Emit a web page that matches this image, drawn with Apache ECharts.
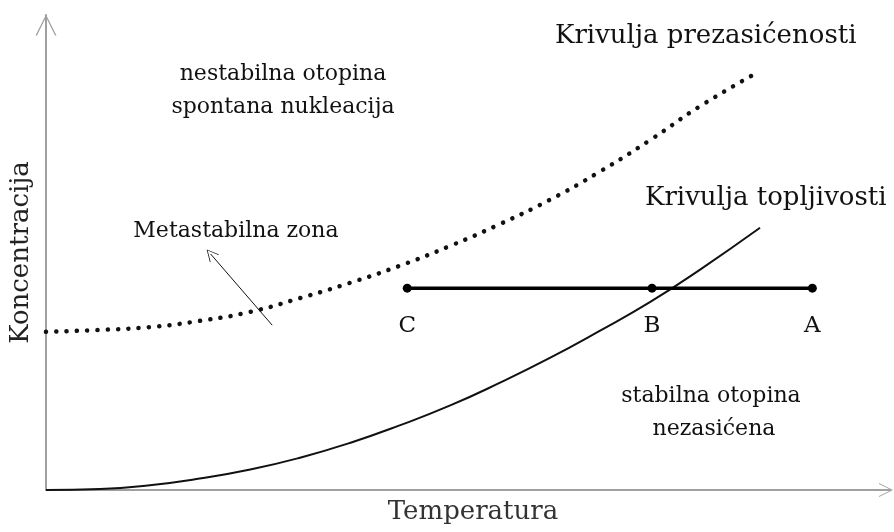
<!DOCTYPE html>
<html lang="hr">
<head>
    <meta charset="UTF-8">
    <title>Krivulja topljivosti</title>
    <script src="https://cdn.jsdelivr.net/npm/echarts@6/dist/echarts.min.js"></script>
    <style>
        html, body { margin: 0; padding: 0; background: #fff; }
    </style>
</head>
<body>
<div id="main" style="width: 894px;height:532px;"></div>

<script type="text/javascript">
    // podaci ocitani sa slike (temperatura i koncentracija u relativnim jedinicama 0-100)
    var solubilityX = [0, 6.4, 12.3, 18.2, 24.2, 30.1, 36.0, 41.9, 47.9, 53.8, 59.7, 65.6, 71.6, 77.5, 84.6];
    var solubilityY = [0, 0.2, 1.0, 2.4, 4.3, 6.8, 9.9, 13.6, 17.8, 22.6, 27.8, 33.5, 39.6, 46.4, 55.2];

    var supersatX = [0, 6.4, 12.3, 18.2, 24.2, 30.1, 36.0, 41.9, 47.9, 53.8, 59.7, 65.6, 71.6, 77.5, 84.4];
    var supersatY = [33.3, 33.7, 34.3, 35.6, 37.5, 40.4, 43.6, 47.2, 51.4, 56.0, 61.1, 67.0, 73.7, 80.8, 88.0];

    // hladjenje otopine od A preko B do C
    var pointNames = ['C', 'B', 'A'];
    var pointX = [42.8, 71.8, 90.8];
    var pointY = 42.5;

    // strelica za metastabilnu zonu
    var arrowFrom = [26.8, 34.7];
    var arrowTo = [19.5, 49.7];

    var serif = 'DejaVu Serif';
    var chevron = 'path://M0,20 L10,0 L20,20 L18.6,20 L10,2.6 L1.4,20 Z';

    function pairs(xs, ys) {
        return xs.map(function (x, i) { return [x, ys[i]]; });
    }

    var myChart = echarts.init(document.getElementById('main'));
    var option = {
        animation: false,
        grid: { left: 46, right: 4, top: 15, bottom: 42 },
        xAxis: {
            type: 'value',
            min: 0,
            max: 100,
            name: 'Temperatura',
            nameLocation: 'middle',
            nameGap: 9,
            nameTextStyle: { fontFamily: serif, fontSize: 26, color: '#333', padding: [0, 0, 0, 10] },
            axisLine: {
                onZero: false,
                lineStyle: { color: '#a0a0a0', width: 2 },
                symbol: ['none', chevron],
                symbolSize: [24, 14],
                symbolOffset: [0, -4]
            },
            axisTick: { show: false },
            axisLabel: { show: false },
            splitLine: { show: false }
        },
        yAxis: {
            type: 'value',
            min: 0,
            max: 100,
            name: 'Koncentracija',
            nameLocation: 'middle',
            nameGap: 12,
            nameTextStyle: { fontFamily: serif, fontSize: 26, color: '#222' },
            axisLine: {
                onZero: false,
                lineStyle: { color: '#a0a0a0', width: 2 },
                symbol: ['none', chevron],
                symbolSize: [24, 21],
                symbolOffset: [0, -10]
            },
            axisTick: { show: false },
            axisLabel: { show: false },
            splitLine: { show: false }
        },
        series: [
            {
                name: 'Krivulja topljivosti',
                type: 'line',
                smooth: 0.5,
                showSymbol: false,
                lineStyle: { color: '#111', width: 2 },
                data: pairs(solubilityX, solubilityY)
            },
            {
                name: 'Krivulja prezasićenosti',
                type: 'line',
                smooth: 0.5,
                showSymbol: false,
                lineStyle: { color: '#111', width: 4.5, type: [0.1, 10.2], cap: 'round' },
                data: pairs(supersatX, supersatY),
                markLine: {
                    silent: true,
                    symbol: ['none', chevron],
                    symbolSize: [12, 12],
                    label: { show: false },
                    lineStyle: { color: '#111', width: 1, type: 'solid' },
                    data: [[{ coord: arrowFrom }, { coord: arrowTo }]]
                }
            },
            {
                name: 'CBA',
                type: 'line',
                symbol: 'circle',
                symbolSize: 9,
                itemStyle: { color: '#000' },
                lineStyle: { color: '#000', width: 3.5 },
                label: {
                    show: true,
                    position: 'bottom',
                    distance: 22,
                    fontFamily: serif,
                    fontSize: 23,
                    color: '#111',
                    formatter: function (p) { return p.name; }
                },
                data: pointX.map(function (x, i) {
                    return { name: pointNames[i], value: [x, pointY] };
                })
            }
        ],
        graphic: [
            { type: 'text', left: 555, top: 23, style: { text: 'Krivulja prezasićenosti', font: '26px "DejaVu Serif"', fill: '#111' } },
            { type: 'text', left: 645, top: 185, style: { text: 'Krivulja topljivosti', font: '26px "DejaVu Serif"', fill: '#111' } },
            { type: 'text', x: 283, y: 74, style: { text: 'nestabilna otopina', font: '22px "DejaVu Serif"', fill: '#111', align: 'center', verticalAlign: 'middle' } },
            { type: 'text', x: 283, y: 107, style: { text: 'spontana nukleacija', font: '22px "DejaVu Serif"', fill: '#111', align: 'center', verticalAlign: 'middle' } },
            { type: 'text', x: 236, y: 231, style: { text: 'Metastabilna zona', font: '22px "DejaVu Serif"', fill: '#111', align: 'center', verticalAlign: 'middle' } },
            { type: 'text', x: 711, y: 396, style: { text: 'stabilna otopina', font: '22px "DejaVu Serif"', fill: '#111', align: 'center', verticalAlign: 'middle' } },
            { type: 'text', x: 714, y: 429, style: { text: 'nezasićena', font: '22px "DejaVu Serif"', fill: '#111', align: 'center', verticalAlign: 'middle' } }
        ]
    };

    myChart.setOption(option);
</script>
</body>
</html>
